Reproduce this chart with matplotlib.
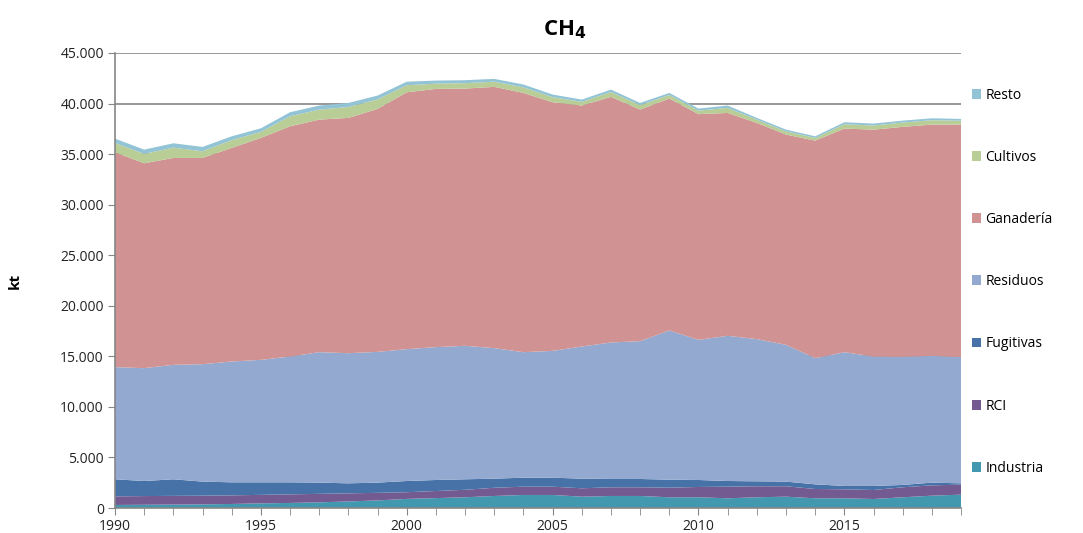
import numpy as np
import matplotlib
matplotlib.use("Agg")
import matplotlib.pyplot as plt
from matplotlib.ticker import FuncFormatter, MultipleLocator

plt.rcParams['font.family'] = ['Open Sans', 'DejaVu Sans']

years = list(range(1990, 2020))

industria = [300, 320, 340, 360, 400, 460, 500, 560, 650, 750, 900, 980, 1060, 1190, 1290,
             1290, 1120, 1190, 1190, 1060, 1060, 960, 1060, 1120, 960, 960, 890, 1060, 1220, 1320]
rci = [850, 860, 860, 860, 850, 840, 850, 840, 800, 750, 660, 700, 740, 810, 820,
       820, 830, 860, 860, 950, 1020, 1150, 1090, 1030, 920, 890, 890, 990, 1020, 990]
fugitivas = [1690, 1490, 1640, 1390, 1290, 1240, 1190, 1110, 990, 1010, 1110, 1090, 1040, 900, 890,
             890, 950, 820, 820, 790, 690, 560, 490, 460, 460, 330, 400, 230, 270, 130]
residuos = [11090, 11160, 11320, 11610, 11950, 12110, 12440, 12900, 12870, 12930, 13040, 13140, 13200, 12910, 12410,
            12540, 13070, 13500, 13630, 14760, 13860, 14360, 14060, 13530, 12480, 13230, 12800, 12670, 12540, 12480]
ganaderia = [21250, 20260, 20460, 20400, 21120, 21950, 22770, 23000, 23270, 24030, 25400, 25540, 25440, 25840, 25640,
             24590, 23830, 24290, 22900, 22930, 22320, 22040, 21380, 20790, 21510, 22110, 22440, 22740, 22870, 23000]
cultivos = [920, 930, 1020, 660, 770, 600, 990, 990, 1080, 940, 700, 520, 530, 510, 550,
            500, 370, 480, 440, 360, 350, 500, 320, 320, 270, 430, 410, 430, 430, 380]
resto = [430, 420, 430, 430, 380, 350, 400, 400, 400, 380, 350, 300, 300, 280, 280,
         260, 220, 240, 220, 200, 200, 230, 180, 170, 160, 200, 190, 190, 190, 180]

labels = ['Industria', 'RCI', 'Fugitivas', 'Residuos', 'Ganadería', 'Cultivos', 'Resto']
colors = ['#4198AF', '#735A91', '#4672A8', '#94A9D0', '#D09292', '#B8CE96', '#92C4D6']

fig = plt.figure(figsize=(10.83, 5.33), dpi=100)
ax = fig.add_axes([0.1062, 0.0469, 0.7812, 0.8537])

ax.stackplot(years, industria, rci, fugitivas, residuos, ganaderia, cultivos, resto,
             colors=colors, labels=labels, zorder=2)

ax.set_xlim(1990, 2019)
ax.set_ylim(0, 45000)
ax.yaxis.set_major_locator(MultipleLocator(5000))
ax.xaxis.set_major_locator(MultipleLocator(5))
ax.xaxis.set_minor_locator(MultipleLocator(1))
ax.yaxis.set_major_formatter(FuncFormatter(lambda v, p: f"{int(v):,}".replace(",", ".")))

ax.grid(axis='y', color='#868686', linewidth=1.2, zorder=0)
ax.set_axisbelow(True)
for s in ['top', 'right']:
    ax.spines[s].set_visible(False)
for s in ['left', 'bottom']:
    ax.spines[s].set_color('#868686')
    ax.spines[s].set_linewidth(1.2)
    ax.spines[s].set_zorder(3)

ax.tick_params(axis='both', which='both', color='#868686', direction='out', labelsize=10, colors='#868686')
ax.tick_params(axis='both', labelcolor='#222222')
ax.tick_params(axis='x', which='major', length=5, pad=3)
ax.tick_params(axis='x', which='minor', length=5)
ax.tick_params(axis='y', length=5, pad=3)

ax.set_ylabel('kt', fontsize=11, fontweight='bold', labelpad=28)
fig.text(565 / 1083, 1 - 30 / 533, r'CH$_\mathbf{4}$', fontsize=16, fontweight='bold',
         ha='center', va='center')

h, l = ax.get_legend_handles_labels()
leg = fig.legend(h[::-1], l[::-1], loc='upper left', bbox_to_anchor=(966 / 1083, 1 - 82 / 533),
                 frameon=False, fontsize=10, handlelength=0.7, handleheight=0.7,
                 handletextpad=0.3, labelspacing=3.4, borderaxespad=0)

fig.savefig('out.png', dpi=100)
